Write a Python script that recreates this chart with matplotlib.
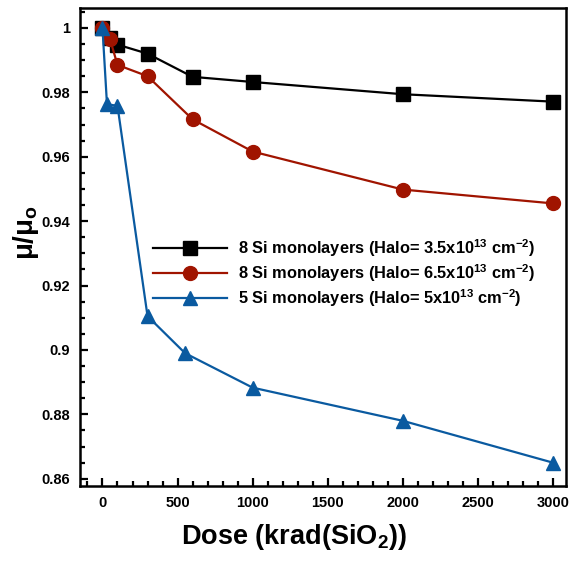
import matplotlib
matplotlib.use("Agg")
import matplotlib.pyplot as plt
from matplotlib.ticker import MultipleLocator

plt.rcParams["font.family"] = ["Liberation Sans", "DejaVu Sans"]
plt.rcParams["font.weight"] = "bold"
plt.rcParams["mathtext.fontset"] = "custom"
plt.rcParams["mathtext.rm"] = "Liberation Sans:bold"
plt.rcParams["mathtext.it"] = "Liberation Sans:bold"
plt.rcParams["mathtext.bf"] = "Liberation Sans:bold"

# dose in krad(SiO2), normalised mobility
dose_a = [0, 50, 100, 300, 600, 1000, 2000, 3000]
mu_a = [1.0, 0.9968, 0.9948, 0.9920, 0.9848, 0.9832, 0.9794, 0.9771]

dose_b = [0, 50, 100, 300, 600, 1000, 2000, 3000]
mu_b = [1.0, 0.9965, 0.9885, 0.9850, 0.9716, 0.9616, 0.9498, 0.9455]

dose_c = [0, 30, 100, 300, 550, 1000, 2000, 3000]
mu_c = [1.0, 0.9763, 0.9758, 0.9105, 0.8990, 0.8883, 0.8780, 0.8650]

labels = [
    r"8 Si monolayers (Halo= 3.5x10$^{13}$ cm$^{-2}$)",
    r"8 Si monolayers (Halo= 6.5x10$^{13}$ cm$^{-2}$)",
    r"5 Si monolayers (Halo= 5x10$^{13}$ cm$^{-2}$)",
]

fig = plt.figure(figsize=(5.71, 5.65), dpi=100)
ax = fig.add_axes([0.140, 0.140, 0.851, 0.846])

ax.plot(dose_a, mu_a, color="black", lw=1.6, marker="s", ms=9.5, label=labels[0])
ax.plot(dose_b, mu_b, color="#a01400", lw=1.6, marker="o", ms=10, label=labels[1])
ax.plot(dose_c, mu_c, color="#0a5aa0", lw=1.6, marker="^", ms=10, label=labels[2])

ax.set_xlim(-150, 3085)
ax.set_ylim(0.8578, 1.0062)
ax.xaxis.set_major_locator(MultipleLocator(500))
ax.xaxis.set_minor_locator(MultipleLocator(100))
ax.yaxis.set_minor_locator(MultipleLocator(0.005))
ax.set_yticks([0.86, 0.88, 0.9, 0.92, 0.94, 0.96, 0.98, 1.0])
ax.set_yticklabels(["0.86", "0.88", "0.9", "0.92", "0.94", "0.96", "0.98", "1"])

ax.tick_params(which="both", direction="in", width=1.6, labelsize=10.5, pad=7)
ax.tick_params(which="major", length=6)
ax.tick_params(which="minor", length=3.5)
for s in ax.spines.values():
    s.set_linewidth(1.8)
for lab in ax.get_xticklabels() + ax.get_yticklabels():
    lab.set_fontweight("bold")

ax.set_xlabel(r"Dose (krad(SiO$_2$))", fontsize=19.5, fontweight="bold")
ax.xaxis.set_label_coords(0.44, -0.075)
ax.set_ylabel(r"$\mu$/$\mu_o$", fontsize=20, fontweight="bold")
ax.yaxis.set_label_coords(-0.08, 0.53)

leg = ax.legend(loc="upper left", bbox_to_anchor=(0.150, 0.521), frameon=False,
                borderpad=0, borderaxespad=0,
                handlelength=4.5, prop={"size": 11.8, "weight": "bold"},
                labelspacing=0.2, handletextpad=0.72)

fig.savefig("out.png", dpi=100)
